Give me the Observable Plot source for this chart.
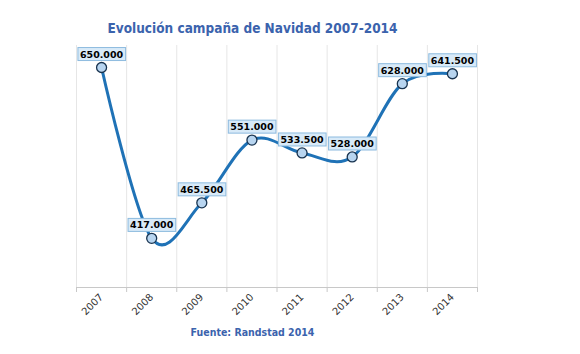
<!DOCTYPE html>
<html><head><meta charset="utf-8">
<script src="https://cdn.jsdelivr.net/npm/d3@7"></script>
<script src="https://cdn.jsdelivr.net/npm/@observablehq/plot@0.6"></script>
<style>
body{margin:0;background:#fff;font-family:"DejaVu Sans",Verdana,sans-serif;}
#wrap{position:relative;width:580px;height:354px;overflow:hidden;background:#fff;}
#title{position:absolute;left:0;width:505px;top:18px;text-align:center;font-family:"DejaVu Sans Condensed","DejaVu Sans",sans-serif;font-weight:bold;font-size:13.5px;color:#3b63ad;line-height:20px;}
#chart{position:absolute;left:0;top:40px;}
#caption{position:absolute;left:0;width:505px;top:324px;text-align:center;font-family:"DejaVu Sans Condensed","DejaVu Sans",sans-serif;font-weight:bold;font-size:10.5px;color:#3b63ad;line-height:16px;}
</style></head><body>
<div id="wrap">
<div id="title">Evolución campaña de Navidad 2007-2014</div>
<div id="chart"></div>
<div id="caption">Fuente: Randstad 2014</div>
</div>
<script>
const years = ["2007","2008","2009","2010","2011","2012","2013","2014"];
const values = [650000,417000,465500,551000,533500,528000,628000,641500];
const labels = ["650.000","417.000","465.500","551.000","533.500","528.000","628.000","641.500"];

const data = years.map((y,i)=>({i, year:y, value:values[i], label:labels[i]}));
const edges = d3.range(years.length+1).map(k=>k-0.5);

const plot = Plot.plot({
  width:580, height:280,
  marginLeft:76, marginRight:103, marginTop:5, marginBottom:33,
  x:{type:"linear", domain:[-0.5, years.length-0.5]},
  y:{domain:[350000,680000], axis:null},
  style:{fontFamily:"DejaVu Sans", fontSize:"10px", color:"#333", background:"white", overflow:"visible"},
  marks:[
    Plot.ruleX(edges, {stroke:"#e6e6e6", strokeWidth:1}),
    Plot.ruleY([350000], {stroke:"#c8c8c8"}),
    Plot.axisX({ticks: edges, tickFormat: ()=>"", tickSize:5, stroke:"#c8c8c8", label:null}),
    Plot.axisX({ticks: d3.range(years.length), tickFormat: i=>years[i], tickSize:0, tickPadding:8, tickRotate:-45, fill:"#333", label:null}),
    Plot.line(data, {x:"i", y:"value", curve:"cardinal", tension:0, stroke:"#1f72b6", strokeWidth:3}),
    Plot.dot(data, {x:"i", y:"value", r:5, fill:"#b8d5f0", stroke:"#18334f", strokeWidth:1.3}),
    Plot.text(data, {x:"i", y:"value", text:"label", dy:-13, fontWeight:"bold", fontSize:9.5, fill:"#000", className:"vlabel"})
  ]
});
document.getElementById("chart").appendChild(plot);

// draw label boxes behind value labels
d3.select(plot).selectAll(".vlabel text").each(function(){
  const b = this.getBBox();
  const r = document.createElementNS("http://www.w3.org/2000/svg","rect");
  r.setAttribute("x", b.x-2);
  r.setAttribute("y", b.y-1);
  r.setAttribute("width", b.width+4);
  r.setAttribute("height", b.height+2);
  r.setAttribute("fill", "#d8eaf8");
  r.setAttribute("stroke", "#8dbbdf");
  r.setAttribute("stroke-width", "1");
  const t = this.getAttribute("transform");
  if (t) r.setAttribute("transform", t);
  this.parentNode.insertBefore(r, this);
});
</script>
</body></html>
